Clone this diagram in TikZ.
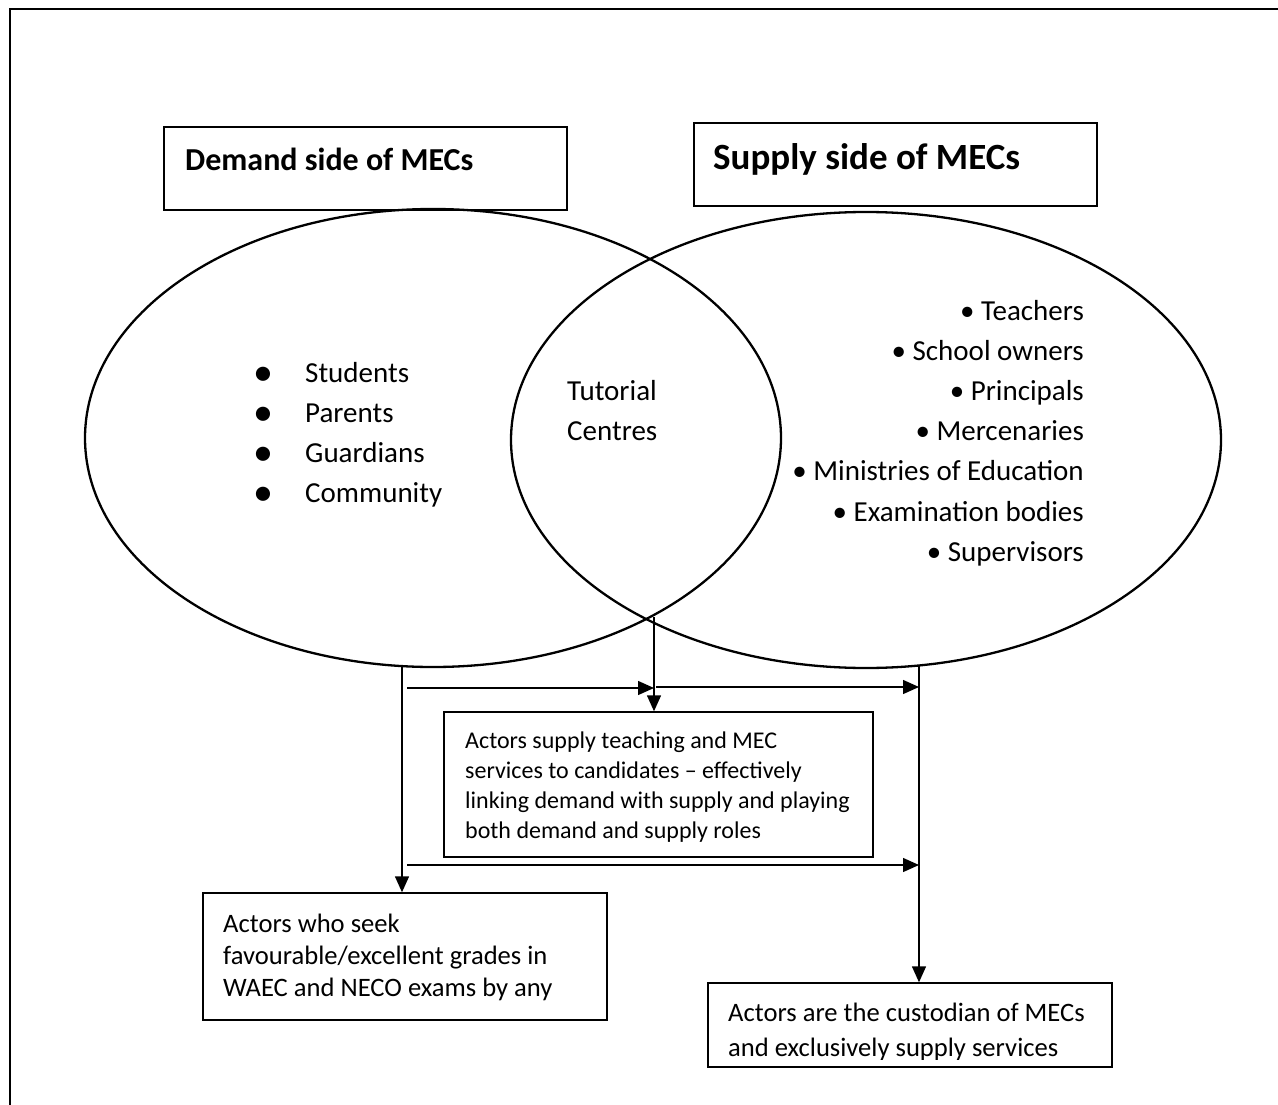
\documentclass[tikz,border=0pt]{standalone}
\usepackage{fontspec}
\setmainfont{Carlito}
\usetikzlibrary{shapes.geometric,arrows.meta}
\begin{document}
\begin{tikzpicture}[x=1pt,y=-1pt,
  ell/.style={ellipse, draw, line width=2.3pt, inner sep=0pt},
  tbox/.style={draw, line width=1.4pt, inner sep=0pt},
  arr/.style={line width=1.4pt, -{Triangle[length=16pt,width=14pt]}},
  txt/.style={inner sep=0pt, anchor=base west},
  bodyf/.style={font=\fontsize{29}{35}\selectfont},
  smallf/.style={font=\fontsize{24}{29}\selectfont},
  midf/.style={font=\fontsize{26.6}{32}\selectfont}]
\useasboundingbox (0,0) rectangle (1278,1105);
% frame
\draw[line width=2.6pt] (1278,9) -- (10,9) -- (10,1105);
% ellipses
\node[ell, minimum width=696pt, minimum height=458pt] (L) at (433,438) {};
\node[ell, minimum width=710pt, minimum height=456pt] (R) at (866,440) {};
% heading boxes
\node[tbox, minimum width=403pt, minimum height=83pt] (dbox) at (365.5,168.5) {};
\node[tbox, minimum width=403pt, minimum height=83pt] (sbox) at (895.5,164.5) {};
\node[txt, font=\bfseries\fontsize{32}{38}\selectfont] (dh) at (185,171) {Demand side of MECs};
\node[txt, font=\bfseries\fontsize{37}{44}\selectfont] (sh) at (713,170) {Supply side of MECs};
% demand list
\node[inner sep=0pt, anchor=base, font=\fontsize{40}{40}\selectfont] (b1) at (263,385) {•};
\node[inner sep=0pt, anchor=base, font=\fontsize{40}{40}\selectfont] (b2) at (263,425) {•};
\node[inner sep=0pt, anchor=base, font=\fontsize{40}{40}\selectfont] (b3) at (263,465) {•};
\node[inner sep=0pt, anchor=base, font=\fontsize{40}{40}\selectfont] (b4) at (263,505) {•};
\node[txt, bodyf] (d1) at (305,382) {Students};
\node[txt, bodyf] (d2) at (305,422) {Parents};
\node[txt, bodyf] (d3) at (305,462) {Guardians};
\node[txt, bodyf] (d4) at (305,502) {Community};
% tutorial centres
\node[txt, bodyf] (tc1) at (567,400) {Tutorial};
\node[txt, bodyf] (tc2) at (567,440) {Centres};
% supply list
\node[inner sep=0pt, anchor=base east, bodyf] (s1) at (1084,320) {• Teachers};
\node[inner sep=0pt, anchor=base east, bodyf] (s2) at (1084,360.2) {• School owners};
\node[inner sep=0pt, anchor=base east, bodyf] (s3) at (1084,400.4) {• Principals};
\node[inner sep=0pt, anchor=base east, bodyf] (s4) at (1084,440.6) {• Mercenaries};
\node[inner sep=0pt, anchor=base east, bodyf] (s5) at (1084,480.8) {• Ministries of Education};
\node[inner sep=0pt, anchor=base east, bodyf] (s6) at (1084,521) {• Examination bodies};
\node[inner sep=0pt, anchor=base east, bodyf] (s7) at (1084,561.2) {• Supervisors};
% lower boxes
\node[tbox, minimum width=429pt, minimum height=145pt] (mbox) at (658.5,784.5) {};
\node[tbox, minimum width=404pt, minimum height=127pt] (lbox) at (405,956.5) {};
\node[tbox, minimum width=404pt, minimum height=84pt] (rbox) at (910,1025) {};
\node[txt, smallf] (m1) at (465,748) {Actors supply teaching and MEC};
\node[txt, smallf] (m2) at (465,778) {services to candidates – effectively};
\node[txt, smallf] (m3) at (465,808) {linking demand with supply and playing};
\node[txt, smallf] (m4) at (465,838) {both demand and supply roles};
\node[txt, midf] (l1) at (223,932) {Actors who seek};
\node[txt, midf] (l2) at (223,964) {favourable/excellent grades in};
\node[txt, midf] (l3) at (223,996) {WAEC and NECO exams by any};
\begin{scope}
\clip (709,984) rectangle (1111,1059);
\node[txt, midf] (r1) at (728,1021) {Actors are the custodian of MECs};
\node[txt, midf] (r2) at (728,1056) {and exclusively supply services};
\end{scope}
% connectors
\coordinate (dtop) at (402,666);
\coordinate (lens) at (654,617);
\coordinate (rtop) at (919,665);
\coordinate (a1s) at (407,688);
\coordinate (a2s) at (656,687);
\coordinate (a3s) at (407,865);
\draw[arr] (dtop) -- (dtop |- lbox.north);
\draw[arr] (lens) -- (lens |- mbox.north);
\draw[arr] (rtop) -- (rtop |- rbox.north);
\draw[arr] (a1s) -- (a1s -| lens);
\draw[arr] (a2s) -- (a2s -| rtop);
\draw[arr] (a3s) -- (a3s -| rtop);
\end{tikzpicture}
\end{document}
